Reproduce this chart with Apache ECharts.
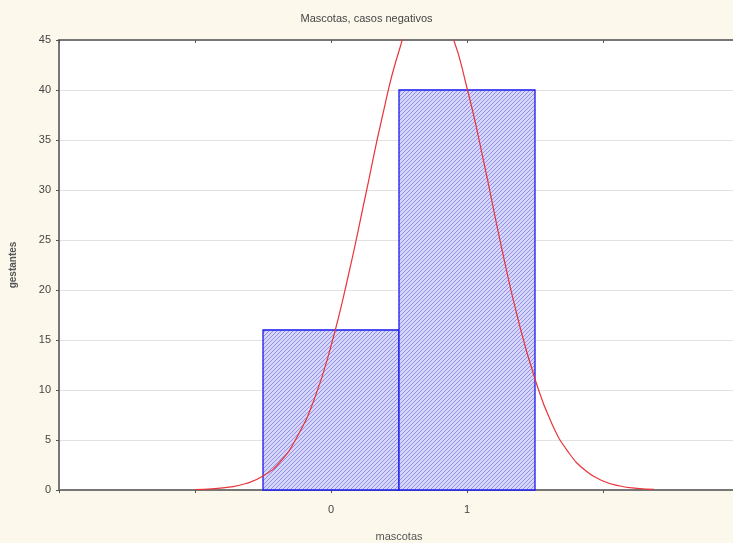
<!DOCTYPE html>
<html>
<head>
  <meta charset="utf-8">
</head>
<body style="margin: 0; background: #fcf9ec">
  <div id="container" style="width: 733px; height: 543px"></div>
  <script src="https://cdn.jsdelivr.net/npm/echarts@6/dist/echarts.min.js"></script>
  <script>
    // histogram: mascotas (0 / 1) vs number of gestantes
    var categories = [0, 1];
    var counts = [16, 40];
    var xTickLabels = ['0', '1'];
    var yTicks = [0, 5, 10, 15, 20, 25, 30, 35, 40, 45];

    // red fitted curve
    var curveX = [-1.0, -0.875, -0.75, -0.625, -0.5, -0.375, -0.25, -0.125, 0, 0.125, 0.25, 0.375, 0.5, 0.625, 0.75,
      0.875, 1.0, 1.125, 1.25, 1.375, 1.5, 1.625, 1.75, 1.875, 2.0, 2.125, 2.25, 2.375];
    var curveY = [0.04, 0.12, 0.28, 0.65, 1.4, 2.8, 5.3, 9.0, 14.4, 21.3, 29.2, 37.2, 43.9, 48.1, 48.8,
      46.0, 40.2, 32.7, 24.5, 17.1, 11.1, 6.6, 3.7, 1.9, 0.9, 0.4, 0.17, 0.06];

    // hatch fill for the bars
    var pat = document.createElement('canvas');
    pat.width = 4; pat.height = 4;
    var ctx = pat.getContext('2d');
    ctx.fillStyle = '#d6d6f9';
    ctx.fillRect(0, 0, 4, 4);
    ctx.strokeStyle = '#9090ea';
    ctx.lineWidth = 1;
    ctx.beginPath();
    ctx.moveTo(-1, 5); ctx.lineTo(5, -1);
    ctx.moveTo(-1, 1); ctx.lineTo(1, -1);
    ctx.moveTo(3, 5); ctx.lineTo(5, 3);
    ctx.stroke();

    var barData = categories.map(function (c, i) { return [c, counts[i]]; });
    var curveData = curveX.map(function (x, i) { return [x, curveY[i]]; });

    var font = 'Liberation Sans';
    var chart = echarts.init(document.getElementById('container'), null, { renderer: 'canvas' });

    var option = {
      backgroundColor: '#fcf9ec',
      animation: false,
      title: {
        text: 'Mascotas, casos negativos',
        left: 'center',
        top: 8,
        textStyle: { fontFamily: font, fontSize: 11, fontWeight: 'normal', color: '#444' }
      },
      grid: {
        left: 59, top: 40, width: 680, height: 450,
        outerBoundsMode: 'none', containLabel: false,
        show: true, backgroundColor: '#fff', borderWidth: 0
      },
      xAxis: [{
        type: 'value', min: -2, max: 3, interval: 1,
        name: 'mascotas', nameLocation: 'middle', nameGap: 41,
        nameTextStyle: { fontFamily: font, fontSize: 11, color: '#555' },
        axisLine: { onZero: false, lineStyle: { color: '#777', width: 2 } },
        axisTick: { length: 3, lineStyle: { color: '#555' } },
        axisLabel: {
          fontFamily: font, fontSize: 11, color: '#444', margin: 14,
          formatter: function (v) { return xTickLabels.indexOf(String(v)) >= 0 ? String(v) : ''; }
        },
        splitLine: { show: false }
      }, {
        type: 'value', position: 'top', min: -2, max: 3, interval: 1,
        axisLine: { onZero: false, lineStyle: { color: '#777', width: 2 } },
        axisTick: { inside: true, length: 3, lineStyle: { color: '#555' } },
        axisLabel: { show: false },
        splitLine: { show: false }
      }],
      yAxis: {
        type: 'value', min: 0, max: 45, interval: 5,
        name: 'gestantes', nameLocation: 'middle', nameGap: 41,
        nameTextStyle: { fontFamily: font, fontSize: 10, fontWeight: 'bold', color: '#555' },
        axisLine: { show: true, onZero: false, lineStyle: { color: '#777', width: 2 } },
        axisTick: { show: true, length: 3, lineStyle: { color: '#555' } },
        axisLabel: {
          fontFamily: font, fontSize: 11, color: '#444', margin: 8,
          formatter: function (v) { return yTicks.indexOf(v) >= 0 ? String(v) : ''; }
        },
        splitLine: { lineStyle: { color: '#e2e2e2' } }
      },
      series: [{
        type: 'custom',
        data: barData,
        renderItem: function (params, api) {
          var x = api.value(0), y = api.value(1);
          var p0 = api.coord([x - 0.5, y]);
          var p1 = api.coord([x + 0.5, 0]);
          return {
            type: 'rect',
            shape: { x: p0[0], y: p0[1], width: p1[0] - p0[0], height: p1[1] - p0[1] },
            style: { fill: { image: pat, repeat: 'repeat' }, stroke: '#1a1aee', lineWidth: 1.3 }
          };
        },
        z: 2
      }, {
        type: 'line',
        data: curveData,
        smooth: true,
        showSymbol: false,
        clip: true,
        lineStyle: { color: '#e8343a', width: 1.2 },
        z: 3
      }]
    };

    chart.setOption(option);
  </script>
</body>
</html>
